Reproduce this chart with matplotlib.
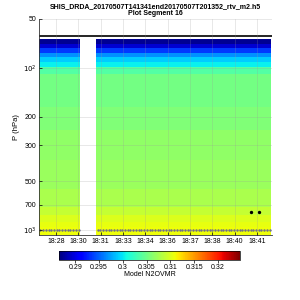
import numpy as np
import matplotlib
matplotlib.use("Agg")
import matplotlib.pyplot as plt

plt.rcParams['font.family'] = ['Liberation Sans', 'DejaVu Sans']

title = "SHIS_DRDA_20170507T141341end20170507T201352_rtv_m2.h5\nPlot Segment 16"

# time grid (minutes after 18:00)
t_start, t_end, t_step = 27.80, 42.74, 0.175
gap_start, gap_end = 30.51, 31.48

# pressure level edges (hPa) and model N2O VMR in each layer
p_edges = [66, 71, 75, 81, 86, 92, 99, 110, 174, 241, 370, 560, 720, 810, 890, 960, 1075]
n2o = [0.2872, 0.2893, 0.2935, 0.2968, 0.2990, 0.3003, 0.3037, 0.3052,
       0.3058, 0.3066, 0.3070, 0.3077, 0.3090, 0.3100, 0.3106, 0.3108]

top_line_p = 64.0
surface_p = 1000.0
cloud_times = [41.38, 41.90]
cloud_p = [774, 774]

tick_pos = [28.9, 30.33, 31.76, 33.19, 34.62, 36.05, 37.48, 38.91, 40.34, 41.77]
tick_labels = ['18:28', '18:30', '18:31', '18:33', '18:34', '18:36', '18:37', '18:38', '18:40', '18:41']
ytick_vals = [50, 100, 200, 300, 500, 700, 1000]
ytick_labels = ['50', '$10^2$', '200', '300', '500', '700', '$10^3$']
vmin, vmax = 0.2866, 0.3246
cbar_ticks = [0.29, 0.295, 0.3, 0.305, 0.31, 0.315, 0.32]
cbar_labels = ['0.29', '0.295', '0.3', '0.305', '0.31', '0.315', '0.32']

t_edges = np.arange(t_start, t_end + 1e-6, t_step)
t_mid = 0.5 * (t_edges[:-1] + t_edges[1:])
valid = ~((t_mid > gap_start) & (t_mid < gap_end))
Z = np.tile(np.array(n2o)[:, None], (1, len(t_mid)))
Z[:, ~valid] = np.nan

fig = plt.figure(figsize=(3, 3), dpi=100)
ax = fig.add_axes([0.13, 0.2167, 0.7767, 0.72])
mesh = ax.pcolormesh(t_edges, p_edges, np.ma.masked_invalid(Z), cmap='jet',
                     vmin=vmin, vmax=vmax, shading='flat')
ax.set_yscale('log')
ax.set_ylim(1075, 50)
ax.set_xlim(t_start, t_end)
ax.set_yticks(ytick_vals)
ax.set_yticklabels(ytick_labels)
ax.yaxis.set_minor_locator(matplotlib.ticker.NullLocator())
ax.set_xticks(tick_pos)
ax.set_xticklabels(tick_labels)
ax.tick_params(labelsize=5, direction='in', length=2, width=0.5, pad=2)
ax.grid(True, color='#999999', linewidth=0.4, alpha=0.4)
ax.set_axisbelow(False)

ax.plot([t_start, t_end], [top_line_p, top_line_p], color='black', linewidth=1.2)
ax.plot(t_mid[valid], np.full(valid.sum(), surface_p), linestyle='none',
        marker='o', markersize=1.7, markeredgewidth=0, color='#64648a')
ax.plot(cloud_times, cloud_p, linestyle='none', marker='o', markersize=1.4, color='black')

for s in ['top', 'right']:
    ax.spines[s].set_visible(False)
for s in ['left', 'bottom']:
    ax.spines[s].set_linewidth(0.6)
    ax.spines[s].set_color('#333333')

ax.set_ylabel('P (hPa)', fontsize=5.5, labelpad=2)
ax.set_title(title, fontsize=5.0, fontweight='bold', pad=3, linespacing=1.0)

cax = fig.add_axes([0.1967, 0.1333, 0.603, 0.03])
cb = fig.colorbar(mesh, cax=cax, orientation='horizontal')
cb.set_ticks(cbar_ticks)
cb.set_ticklabels(cbar_labels)
cb.ax.tick_params(labelsize=5, length=2, width=0.5, pad=1)
cb.outline.set_linewidth(0.5)
cb.set_label('Model N2OVMR', fontsize=5, labelpad=0)

fig.savefig('out.png', dpi=100)
